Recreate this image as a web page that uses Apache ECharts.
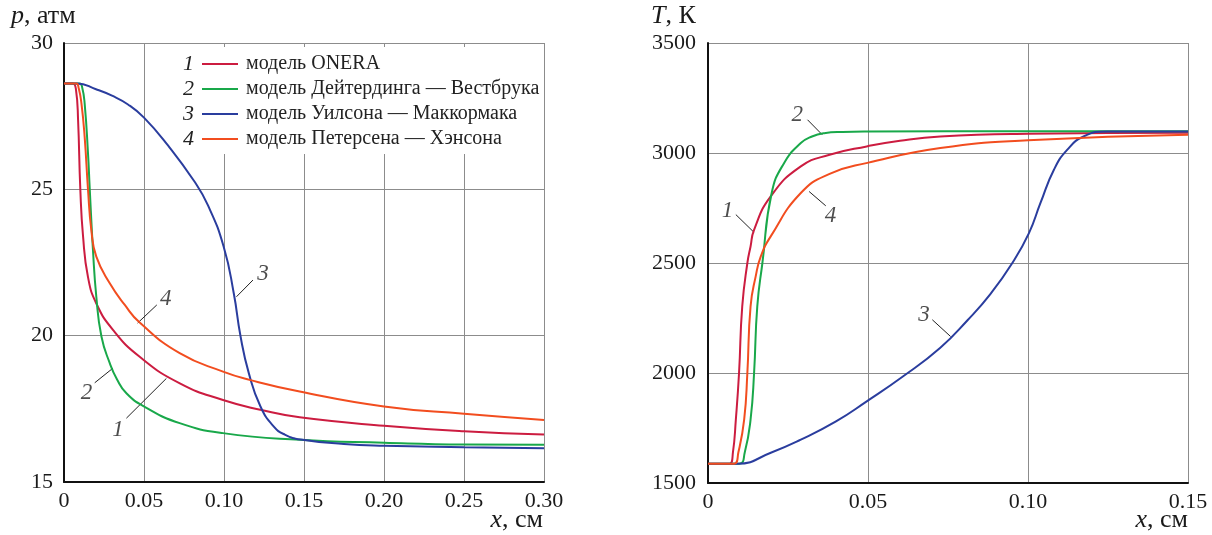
<!DOCTYPE html>
<html>
<head>
<meta charset="utf-8">
<script src="https://cdn.jsdelivr.net/npm/echarts@6.0.0/dist/echarts.min.js"></script>
<style>
  html, body { margin: 0; padding: 0; background: #fff; }
  #chart { width: 1212px; height: 535px; }
</style>
</head>
<body>
<div id="chart"></div>
<script>
// названия моделей (легенда)
const modelNames = [
  "модель ONERA",
  "модель Дейтердинга — Вестбрука",
  "модель Уилсона — Маккормака",
  "модель Петерсена — Хэнсона"
];
const modelColors = ["#cc1c40", "#19a84a", "#2a3d9e", "#f24d1f"];

// левый график: давление p, атм от x, см
const pX1 = [0, 0.0055, 0.0075, 0.0088, 0.0102, 0.0119, 0.015, 0.0202, 0.0306, 0.0473, 0.0724, 0.0994, 0.1234, 0.1473, 0.20, 0.25, 0.30];
const pY1 = [28.62, 28.62, 28.4, 27.37, 25.0, 23.4, 22.0, 21.1, 20.2, 19.28, 18.37, 17.8, 17.46, 17.21, 16.92, 16.73, 16.62];
const pX2 = [0, 0.0098, 0.0113, 0.0129, 0.015, 0.0161, 0.0181, 0.0202, 0.0234, 0.0286, 0.033, 0.039, 0.0504, 0.0723, 0.0994, 0.1473, 0.20, 0.25, 0.30];
const pY2 = [28.62, 28.62, 28.5, 27.94, 26.23, 25.0, 22.93, 21.33, 19.97, 19.06, 18.52, 18.03, 17.57, 17.01, 16.67, 16.44, 16.34, 16.28, 16.27];
const pX3 = [0, 0.0082, 0.02, 0.03, 0.04, 0.05, 0.065, 0.0811, 0.09, 0.0998, 0.1061, 0.1103, 0.1155, 0.1228, 0.131, 0.138, 0.148, 0.175, 0.20, 0.25, 0.30];
const pY3 = [28.62, 28.62, 28.42, 28.2, 27.9, 27.45, 26.5, 25.3, 24.45, 23.04, 21.45, 19.99, 18.72, 17.58, 16.9, 16.62, 16.45, 16.3, 16.24, 16.19, 16.15];
const pX4 = [0, 0.0077, 0.0092, 0.0109, 0.0129, 0.015, 0.0171, 0.0202, 0.0286, 0.038, 0.0473, 0.0723, 0.0994, 0.116, 0.1473, 0.20, 0.25, 0.30];
const pY4 = [28.62, 28.62, 28.45, 27.94, 26.8, 25.0, 23.6, 22.7, 21.79, 21.05, 20.45, 19.4, 18.77, 18.49, 18.09, 17.58, 17.33, 17.12];

// правый график: температура T, К от x, см
const tX1 = [0, 0.0068, 0.0078, 0.0087, 0.0097, 0.0107, 0.0123, 0.0133, 0.0144, 0.0196, 0.029, 0.038, 0.0496, 0.06, 0.0726, 0.10, 0.15];
const tY1 = [1588, 1588, 1640, 1788, 2000, 2303, 2500, 2575, 2651, 2803, 2939, 2992, 3030, 3056, 3075, 3087, 3092];
const tX2 = [0, 0.0098, 0.0115, 0.0133, 0.0144, 0.0154, 0.017, 0.0199, 0.0238, 0.029, 0.0325, 0.0363, 0.042, 0.0496, 0.10, 0.15];
const tY2 = [1588, 1588, 1640, 1788, 2000, 2303, 2500, 2818, 2955, 3045, 3075, 3090, 3096, 3098, 3099, 3099];
const tX3 = [0, 0.0092, 0.02, 0.029, 0.04, 0.0496, 0.061, 0.0726, 0.0811, 0.0883, 0.0951, 0.1003, 0.1039, 0.1081, 0.1123, 0.1175, 0.1248, 0.15];
const tY3 = [1588, 1588, 1640, 1697, 1780, 1871, 1985, 2115, 2240, 2360, 2500, 2636, 2773, 2924, 3015, 3076, 3098, 3098];
const tX4 = [0, 0.0082, 0.0095, 0.0113, 0.0123, 0.0133, 0.0149, 0.0165, 0.0196, 0.029, 0.038, 0.0498, 0.0726, 0.10, 0.15];
const tY4 = [1588, 1588, 1640, 1788, 2000, 2303, 2439, 2530, 2621, 2818, 2905, 2955, 3023, 3058, 3083];

// подписи кривых: [x, y, номер] и выноски
const pMarks = [[0.0636, 21.25, "4"], [0.014, 18.03, "2"], [0.0338, 16.78, "1"], [0.1244, 22.1, "3"]];
const pLeaders = [
  [[0.046, 20.43], [0.058, 21.05]],
  [[0.0192, 18.39], [0.0306, 18.89]],
  [[0.039, 17.18], [0.064, 18.54]],
  [[0.1078, 21.33], [0.1181, 21.9]]
];
const tMarks = [[0.0279, 3174, "2"], [0.0061, 2735, "1"], [0.0383, 2712, "4"], [0.0675, 2265, "3"]];
const tLeaders = [
  [[0.0311, 3151], [0.0357, 3083]],
  [[0.0087, 2720], [0.0144, 2639]],
  [[0.0316, 2825], [0.0368, 2760]],
  [[0.0701, 2242], [0.0758, 2166]]
];

const SERIF = "'Liberation Serif', 'DejaVu Serif', serif";
const zip = (xs, ys) => xs.map((x, i) => [x, ys[i]]);

const chart = echarts.init(document.getElementById("chart"));

function axisX(idx, max) {
  return {
    gridIndex: idx, type: "value", min: 0, max: max, interval: 0.05,
    axisLine: { onZero: false, lineStyle: { color: "#111", width: 2 } },
    axisTick: { show: false },
    splitLine: { show: true, lineStyle: { color: "#8c8c8c", width: 1 } },
    axisLabel: {
      formatter: v => (v === 0 ? "0" : v.toFixed(2)),
      fontFamily: SERIF, fontSize: 22, color: "#1a1a1a", margin: 8
    }
  };
}
function axisY(idx, min, max, step, margin) {
  return {
    gridIndex: idx, type: "value", min: min, max: max, interval: step,
    axisLine: { show: true, onZero: false, lineStyle: { color: "#111", width: 2 } },
    axisTick: { show: false },
    splitLine: { show: true, lineStyle: { color: "#8c8c8c", width: 1 } },
    axisLabel: {
      formatter: v => String(v),
      fontFamily: SERIF, fontSize: 22, color: "#1a1a1a", margin: margin
    }
  };
}

const curves = [];
[[pX1, pY1], [pX2, pY2], [pX3, pY3], [pX4, pY4]].forEach((c, i) => {
  curves.push({
    name: modelNames[i], type: "line", xAxisIndex: 0, yAxisIndex: 0,
    data: zip(c[0], c[1]), smooth: 0.5, symbol: "none",
    lineStyle: { color: modelColors[i], width: 2 }, itemStyle: { color: modelColors[i] }
  });
});
[[tX1, tY1], [tX2, tY2], [tX3, tY3], [tX4, tY4]].forEach((c, i) => {
  curves.push({
    name: modelNames[i], type: "line", xAxisIndex: 1, yAxisIndex: 1,
    data: zip(c[0], c[1]), smooth: 0.5, symbol: "none",
    lineStyle: { color: modelColors[i], width: 2 }, itemStyle: { color: modelColors[i] }
  });
});

function markSeries(idx, marks, leaders) {
  return [
    {
      type: "lines", coordinateSystem: "cartesian2d", xAxisIndex: idx, yAxisIndex: idx,
      data: leaders.map(l => ({ coords: l })),
      lineStyle: { color: "#222", width: 1, opacity: 1 }, silent: true
    },
    {
      type: "scatter", xAxisIndex: idx, yAxisIndex: idx, data: marks,
      symbolSize: 1, itemStyle: { color: "rgba(0,0,0,0)" }, silent: true,
      label: {
        show: true, position: "inside", formatter: p => p.data[2],
        fontFamily: SERIF, fontStyle: "italic", fontSize: 23, color: "#222"
      }
    }
  ];
}

const legendRich = {
  n: { fontFamily: SERIF, fontStyle: "italic", fontSize: 22, width: 15, lineHeight: 20, color: "#222" },
  s1: { width: 4, lineHeight: 20 },
  s2: { width: 8, lineHeight: 20 },
  t: { fontFamily: SERIF, fontSize: 20, lineHeight: 20, color: "#222" }
};
modelColors.forEach((c, i) => {
  legendRich["c" + i] = { width: 36, height: 2, backgroundColor: c };
});

const nameStyle = {
  fontFamily: SERIF, fontSize: 26, fill: "#1a1a1a",
  rich: { i: { fontFamily: SERIF, fontStyle: "italic", fontSize: 26, color: "#1a1a1a" } }
};

chart.setOption({
  animation: false,
  backgroundColor: "#fff",
  grid: [
    { left: 64, right: 668, top: 43, bottom: 53 },
    { left: 708, right: 24, top: 43, bottom: 52 }
  ],
  xAxis: [axisX(0, 0.30), axisX(1, 0.15)],
  yAxis: [axisY(0, 15, 30, 5, 11), axisY(1, 1500, 3500, 500, 12)],
  legend: {
    data: modelNames, orient: "vertical", left: 176, top: 47,
    icon: "none", itemWidth: 0, itemHeight: 20, itemGap: 3,
    padding: [6, 3, 4, 2], backgroundColor: "#fff",
    selectedMode: false,
    formatter: name => {
      const i = modelNames.indexOf(name);
      return "{n|" + (i + 1) + "}{s1| }{c" + i + "| }{s2| }{t|" + name + "}";
    },
    textStyle: { rich: legendRich }
  },
  graphic: [
    { type: "text", left: 11, top: 3, style: Object.assign({ text: "{i|p}, атм" }, nameStyle) },
    { type: "text", left: 651, top: 3, style: Object.assign({ text: "{i|T}, К" }, nameStyle) },
    { type: "text", right: 669, top: 507, style: Object.assign({ text: "{i|x}, см" }, nameStyle) },
    { type: "text", right: 24, top: 507, style: Object.assign({ text: "{i|x}, см" }, nameStyle) }
  ],
  series: curves.concat(markSeries(0, pMarks, pLeaders), markSeries(1, tMarks, tLeaders))
});
</script>
</body>
</html>
